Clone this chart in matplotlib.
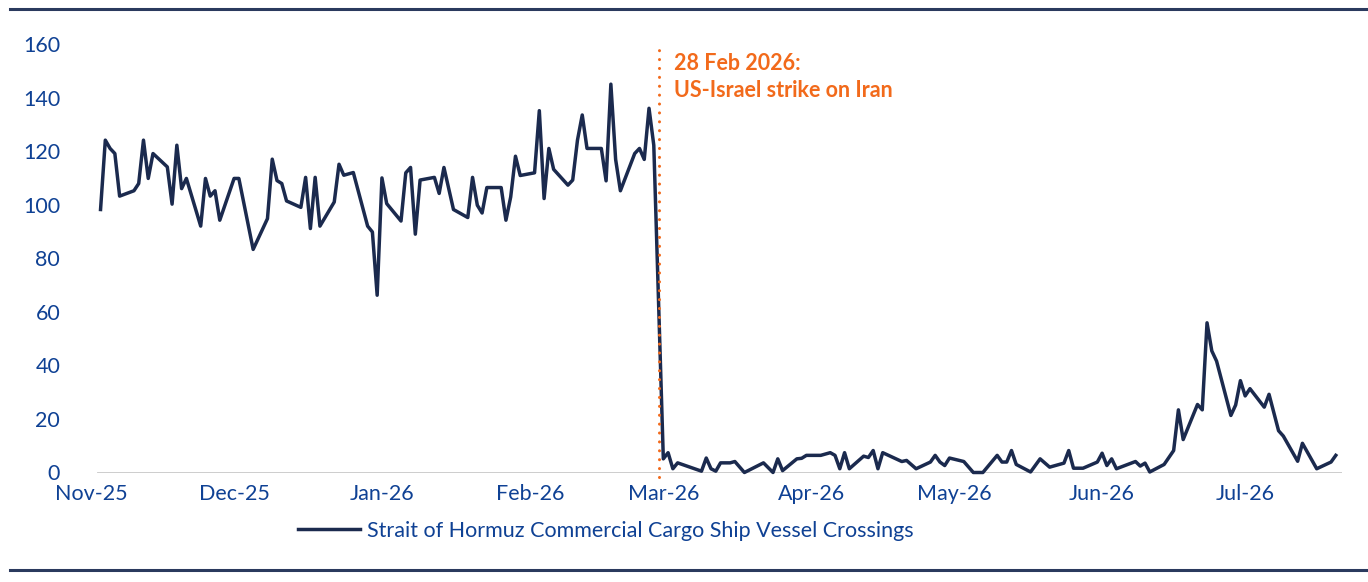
import matplotlib
matplotlib.use("Agg")
import matplotlib.pyplot as plt
from matplotlib.lines import Line2D
import pandas as pd

plt.rcParams['font.family'] = ['Lato', 'DejaVu Sans']

# ---- data ----
start_date = "2025-11-01"          # day offsets are counted from this date
day_offsets = [
    2, 3, 4, 5, 6, 9, 10, 11, 12, 13, 16, 17, 18, 19, 20, 23, 24, 25, 26, 27,
    30, 31, 34, 37, 38, 39, 40, 41, 44, 45, 46, 47, 48, 51, 52, 53, 55, 58, 59, 60,
    61, 62, 65, 66, 67, 68, 69, 72, 73, 74, 76, 79, 80, 81, 82, 83, 86, 87, 88, 89,
    90, 93, 94, 95, 96, 97, 100, 101, 102, 103, 104, 107, 108, 109, 110, 111, 114, 115, 116, 117,
    118,
    120, 121, 122, 123, 128, 129, 130, 131, 132, 134, 135, 137, 141, 143, 144, 145, 148, 149, 150, 153,
    155, 156, 157, 158, 159, 162, 163, 164, 165, 166, 170, 171, 173, 176, 177, 178, 179, 180, 183, 185,
    187, 190, 191, 192, 193, 194, 197, 199, 201, 204, 205, 206, 208, 211, 212, 213, 214, 215, 219, 220,
    221, 222, 225, 227, 228, 229, 232, 233, 234, 235, 236, 239, 240, 241, 242, 243, 246, 247, 249, 250,
    253, 254, 257, 260, 261,
]
crossings = [
    98.2, 124.1, 121, 119.1, 103.2, 105.2, 107.9, 124.1, 109.8, 119.1, 114.1, 100.2, 122.2, 106, 109.8,
    92, 109.8, 103.2, 105.2, 94.2, 109.8, 109.8, 83.3, 94.8, 117, 109, 107.9, 101.4, 99, 110.2,
    91.1, 110.2, 92, 101, 115.1, 111, 112, 92, 89.8, 66.2, 110, 100.4, 93.9, 111.9, 113.9,
    89, 109.2, 110.2, 104.2, 113.9, 98.2, 95.2, 110.2, 99.8, 96.9, 106.4, 106.4, 94.2, 102.9, 118.1,
    110.9, 111.9, 135.1, 102.3, 121, 113.2, 107.3, 109.2, 124.1, 133.5, 121, 121, 108.9, 145, 116.9,
    105.2, 119.1, 121, 116.9, 136, 122.2,
    5.1, 7.4, 1.4, 3.6, 0.5, 5.4, 1.4, 0.5, 3.6, 3.6, 4.1, 0, 3.6, 0, 5.1, 0.7, 5.1, 5.3, 6.4, 6.4,
    7.4, 6.4, 1.4, 7.4, 1.4, 6.1, 5.6, 8.2, 1.4, 7.4, 4.1, 4.5, 1.4, 3.9, 6.4, 3.9, 2.6, 5.4, 4.1, 0,
    0, 6.4, 3.9, 3.9, 8.2, 3, 0.2, 5.1, 2, 3.5, 8.2, 1.6, 1.6, 3.9, 7.2, 2.6, 5.1, 1.4, 4.1, 2.4,
    3.5, 0.2, 3, 8.2, 23.4, 12.3, 25.4, 23.4, 55.9, 45.4, 41.6, 21.3, 25.2, 34.3, 28.6, 31.3, 24.4, 29.2, 15.6, 13.6,
    4.2, 10.9, 1.4, 3.9, 6.4,
]
series_label = "Strait of Hormuz Commercial Cargo Ship Vessel Crossings"
event_date = "2026-02-28"
event_text = "28 Feb 2026:\nUS-Israel strike on Iran"
month_starts = pd.date_range("2025-11-01", "2026-07-01", freq="MS")
tick_labels = [d.strftime("%b-%y") for d in month_starts]
y_ticks = [0, 20, 40, 60, 80, 100, 120, 140, 160]

# ---- styles ----
NAVY = "#1b2a4e"
BLUE = "#0f4194"
ORANGE = "#f26a1b"
RULE = "#2a3a5e"
GRID = "#c9c9c9"
FS = 15.5

W, H = 1368, 582
start = pd.Timestamp(start_date)
dates = start + pd.to_timedelta(day_offsets, unit="D")
ev = pd.Timestamp(event_date)

fig = plt.figure(figsize=(W / 100, H / 100), dpi=100)
ax_left, ax_right, ax_top, ax_bot = 88, 1342, 44, 472.5
ax = fig.add_axes([ax_left / W, 1 - ax_bot / H, (ax_right - ax_left) / W, (ax_bot - ax_top) / H])

line, = ax.plot(dates, crossings, color=NAVY, lw=2.5, zorder=3, clip_on=False,
                label=series_label)

ax.set_xlim(start - pd.Timedelta(days=0.63), start + pd.Timedelta(days=262.3))
ax.set_ylim(0, 160)
ax.set_yticks(y_ticks)
ax.set_xticks(month_starts)
ax.set_xticklabels(tick_labels)
ax.tick_params(axis="both", length=0, labelsize=FS, colors=BLUE)
ax.tick_params(axis="x", pad=8)
ax.tick_params(axis="y", pad=20)
for s in ax.spines.values():
    s.set_visible(False)

# baseline
ax.axhline(0, xmin=10 / (ax_right - ax_left), xmax=1, color=GRID, lw=1.3, zorder=1)

# event marker
ax.plot([ev, ev], [-1.6, 158.8], color=ORANGE, lw=2.2, linestyle=(0, (0.01, 2.9)),
        dash_capstyle="round", clip_on=False, zorder=4)
ax.text(ev + pd.Timedelta(days=3.3), 156.8, event_text, color=ORANGE, fontsize=FS,
        fontweight="bold", ha="left", va="top", linespacing=1.4)

# legend
fig.legend(handles=[line], loc="center", bbox_to_anchor=(606 / W, 1 - 531 / H),
           frameon=False, fontsize=FS, handlelength=2.9, handletextpad=0.33,
           labelcolor=BLUE)

# top / bottom rules
for yy in (9, 570):
    fig.add_artist(Line2D([10 / W, 1.0], [1 - yy / H] * 2, color=RULE, lw=2.2,
                          transform=fig.transFigure))

fig.savefig("out.png", dpi=100)
